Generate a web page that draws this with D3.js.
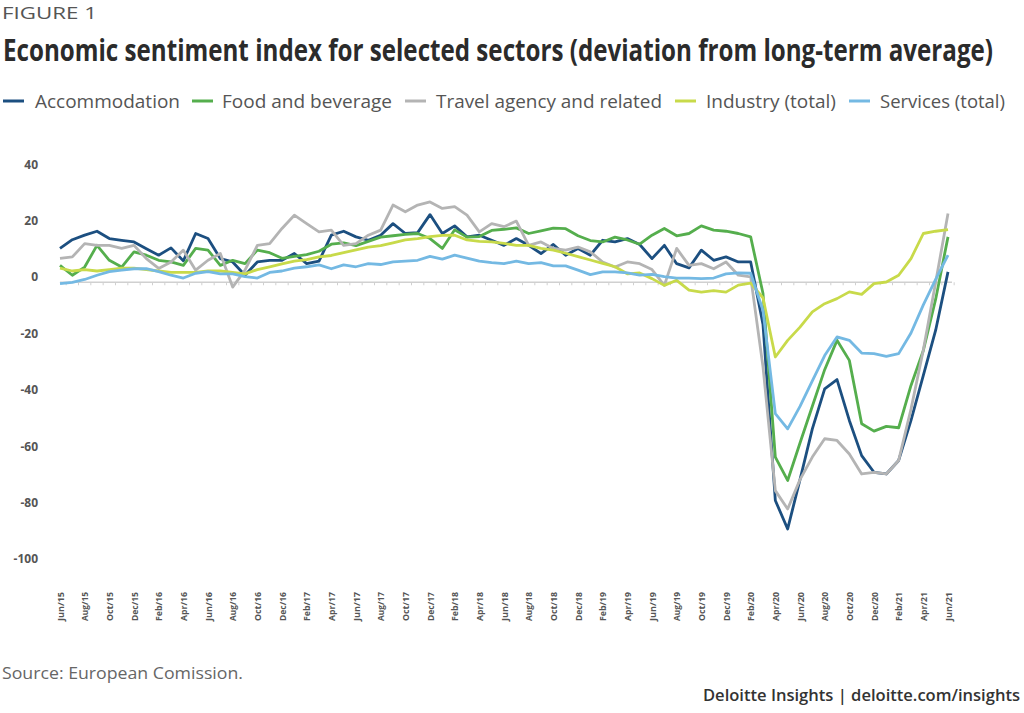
<!DOCTYPE html>
<html><head><meta charset="utf-8">
<script src="https://cdn.jsdelivr.net/npm/d3@7"></script>
<style>
body{margin:0;background:#fff;}
svg{display:block;}
</style></head><body>
<svg id="chart" width="1024" height="713"></svg>
<script>
const months = ["Jun/15","Jul/15","Aug/15","Sep/15","Oct/15","Nov/15","Dec/15",
"Jan/16","Feb/16","Mar/16","Apr/16","May/16","Jun/16","Jul/16","Aug/16","Sep/16","Oct/16","Nov/16","Dec/16",
"Jan/17","Feb/17","Mar/17","Apr/17","May/17","Jun/17","Jul/17","Aug/17","Sep/17","Oct/17","Nov/17","Dec/17",
"Jan/18","Feb/18","Mar/18","Apr/18","May/18","Jun/18","Jul/18","Aug/18","Sep/18","Oct/18","Nov/18","Dec/18",
"Jan/19","Feb/19","Mar/19","Apr/19","May/19","Jun/19","Jul/19","Aug/19","Sep/19","Oct/19","Nov/19","Dec/19",
"Jan/20","Feb/20","Mar/20","Apr/20","May/20","Jun/20","Jul/20","Aug/20","Sep/20","Oct/20","Nov/20","Dec/20",
"Jan/21","Feb/21","Mar/21","Apr/21","May/21","Jun/21"];

const tickLabels = ["Jun/15","Aug/15","Oct/15","Dec/15","Feb/16","Apr/16","Jun/16","Aug/16","Oct/16","Dec/16",
"Feb/17","Apr/17","Jun/17","Aug/17","Oct/17","Dec/17","Feb/18","Apr/18","Jun/18","Aug/18","Oct/18","Dec/18",
"Feb/19","Apr/19","Jun/19","Aug/19","Oct/19","Dec/19","Feb/20","Apr/20","Jun/20","Aug/20","Oct/20","Dec/20",
"Feb/21","Apr/21","Jun/21"];

const accommodation = [12,15.1,16.7,18.1,15.5,14.9,14.3,11.9,9.6,12.2,7.6,17.3,15.5,8.4,7.2,2.5,7.2,7.8,7.8,10.2,
6.6,7.5,16.7,18.1,16.1,14.9,16.7,20.8,17.3,17.6,24.0,17.3,20.0,16.1,16.7,14.9,13.1,15.5,13.1,10.2,
13.4,9.6,12.0,9.6,14.9,14.3,15.5,13.4,8.4,13.1,6.6,5.1,11.4,7.8,9.0,7.2,7.2,-15,-77.4,-87.5,
-70,-52,-37.8,-34.5,-49,-61.5,-67.4,-68,-63.2,-49,-33,-17,3.7];

const foodBeverage = [6.0,2.5,5.4,13.1,7.8,5.4,10.8,9.6,7.8,7.2,6.0,12.0,11.4,6.0,7.8,6.6,11.4,10.5,8.5,9.2,
9.8,11.0,13.5,14.0,13.0,14.5,16.0,16.5,17.0,17.3,15.5,12.0,18.6,16.0,16.2,18.4,18.8,19.3,17.3,18.2,
19.2,19.0,16.5,14.8,14.3,16.0,15.0,13.5,16.7,19.1,16.5,17.3,20.0,18.5,18.1,17.3,16.1,-4,-62,-70.3,
-57,-44,-31,-20.6,-27.7,-50.2,-52.8,-51.1,-51.6,-36.6,-24.2,-6,16.1];

const travelAgency = [8.5,9,13.7,13.1,13.1,12,13.1,8.4,4.9,7.2,11.4,4.3,7.8,10.2,-1.7,4.3,13.1,13.7,19.1,23.8,
20.8,17.9,18.5,13.1,13.7,16.7,18.5,27.4,25,27.4,28.5,26.2,26.8,23.8,17.9,20.8,19.7,21.7,13.1,14.3,
12,11.4,12.5,10.8,7.2,5.4,7.2,6.6,4.5,-1.1,12,6,6.6,4.8,7.2,2.5,1.9,-30,-73.9,-80.4,
-70,-62,-55.5,-56.1,-60.9,-68,-67.4,-68,-63.2,-45,-24,0,24.4];

const industryTotal = [5,4,4.5,4,4.5,5,5,4.5,4,3.5,3.5,3.5,4,4,3.5,3,4.5,5.5,6.5,7.5,
8,9,9.5,10.5,11.5,12.5,13,14,15,15.5,16.2,16.6,16.7,15,14.5,14.3,13.8,13.1,13.1,12,
11.4,10.3,9.1,7.9,6.7,5.5,3,3.3,1.3,-1.1,0.7,-2.8,-3.5,-3,-3.5,-1,-0.3,-5.5,-26.5,-20.6,
-15.9,-10.5,-7.6,-5.8,-3.4,-4.3,-0.5,0.1,2.5,8.4,17.3,18.1,18.7];

const servicesTotal = [-0.5,0,1,2.5,3.8,4.3,4.8,4.8,3.8,2.5,1.5,3.2,3.8,3,3,2,1.5,3.5,4,5,
5.5,6.2,4.8,6.2,5.5,6.6,6.3,7.2,7.5,7.8,9.2,8.2,9.6,8.6,7.5,7,6.6,7.5,6.6,7,
5.8,5.8,4.3,2.7,3.7,3.7,3.3,2.5,2.8,2,1.5,1.5,1.3,1.5,3,3.3,3.2,-10,-46.6,-52,
-44,-35,-26,-19.4,-20.6,-25.1,-25.3,-26.3,-25.3,-18,-8,1,9.6];

const yTicks = [40,20,0,-20,-40,-60,-80,-100];
const seriesNames = ["Accommodation","Food and beverage","Travel agency and related","Industry (total)","Services (total)"];
const seriesColors = ["#1c4f80","#55ae4d","#b4b4b4","#c8da4a","#74b9e3"];
const seriesValues = [accommodation, foodBeverage, travelAgency, industryTotal, servicesTotal];

const svg = d3.select("#chart");
const FONT = "'Open Sans', 'Liberation Sans', sans-serif";

// scales
const x = d3.scalePoint().domain(months).range([60, 948]);
const y = d3.scaleLinear().domain([-100, 40]).range([564.2, 169.5]);

// header
svg.append("text").attr("x", 2).attr("y", 19).attr("font-family", FONT)
  .attr("font-size", 17).attr("fill", "#555").attr("textLength", 95).attr("lengthAdjust", "spacingAndGlyphs")
  .text("FIGURE 1");
svg.append("text").attr("transform", "translate(3,61) scale(1,1.38)").attr("font-family", FONT).attr("font-weight", 700)
  .attr("font-size", 22).attr("fill", "#2b2b2b").attr("textLength", 990).attr("lengthAdjust", "spacingAndGlyphs")
  .text("Economic sentiment index for selected sectors (deviation from long-term average)");

// legend
const legendLayout = [[3,35,145],[192,222,170],[405,436,226],[675,706,130],[849,880,125]];
const lg = svg.append("g");
seriesNames.forEach((name, i) => {
  const [sx, tx, tw] = legendLayout[i];
  lg.append("line").attr("x1", sx).attr("x2", sx + 21).attr("y1", 101).attr("y2", 101)
    .attr("stroke", seriesColors[i]).attr("stroke-width", 3);
  lg.append("text").attr("x", tx).attr("y", 107.5).attr("font-family", FONT).attr("font-size", 18)
    .attr("fill", "#555").attr("textLength", tw).attr("lengthAdjust", "spacingAndGlyphs").text(name);
});

// y axis labels
const ya = svg.append("g");
ya.selectAll("text").data(yTicks).join("text")
  .attr("x", 38).attr("y", d => y(d) - 5).attr("dy", "0.35em").attr("text-anchor", "end")
  .attr("font-family", FONT).attr("font-weight", 700).attr("font-size", 12).attr("fill", "#555")
  .text(d => d);

// zero line with month ticks
const step = x.step();
svg.append("g").selectAll("line").data(months).join("line")
  .attr("x1", d => x(d) + step / 2).attr("x2", d => x(d) + step / 2)
  .attr("y1", y(0)).attr("y2", y(0) + 3).attr("stroke", "#d0d0d0").attr("stroke-width", 1);
svg.append("line").attr("x1", 60).attr("x2", 952).attr("y1", y(0)).attr("y2", y(0))
  .attr("stroke", "#d0d0d0").attr("stroke-width", 1.5);

// x axis labels
svg.append("g").selectAll("text").data(tickLabels).join("text")
  .attr("transform", d => `translate(${x(d) + 3.5},592) rotate(-90)`)
  .attr("text-anchor", "end").attr("font-family", FONT).attr("font-weight", 700)
  .attr("font-size", 9).attr("fill", "#555").attr("textLength", 29).attr("lengthAdjust", "spacingAndGlyphs")
  .text(d => d);

// lines
const line = d3.line().x((d, i) => x(months[i])).y(d => y(d));
svg.append("g").selectAll("path").data(seriesValues).join("path")
  .attr("d", d => line(d)).attr("fill", "none")
  .attr("stroke", (d, i) => seriesColors[i]).attr("stroke-width", 2.8)
  .attr("stroke-linejoin", "round");

// footer
svg.append("text").attr("x", 2).attr("y", 679).attr("font-family", FONT).attr("font-size", 16)
  .attr("fill", "#666").attr("textLength", 241).attr("lengthAdjust", "spacingAndGlyphs")
  .text("Source: European Comission.");
svg.append("text").attr("x", 1020).attr("y", 701).attr("text-anchor", "end").attr("font-family", FONT)
  .attr("font-size", 16).attr("font-weight", 600).attr("fill", "#333")
  .attr("textLength", 317).attr("lengthAdjust", "spacingAndGlyphs")
  .text("Deloitte Insights | deloitte.com/insights");
</script>
</body></html>
